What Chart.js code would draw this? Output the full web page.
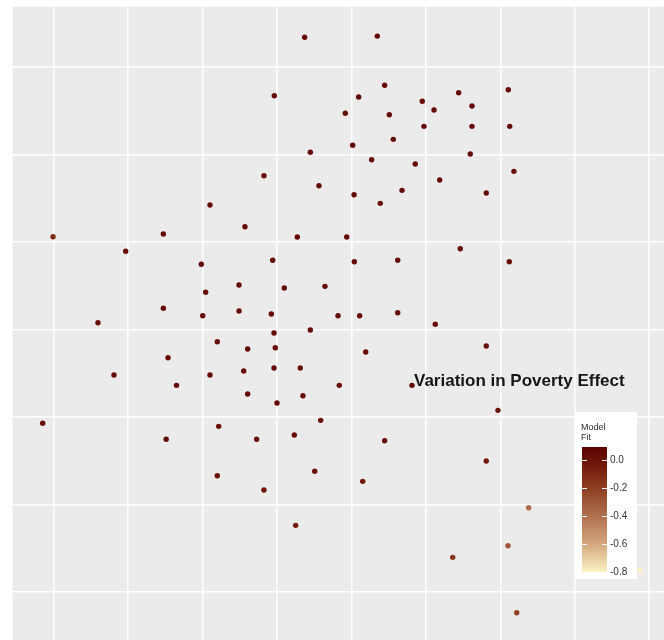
<!DOCTYPE html>
<html>
<head>
<meta charset="utf-8">
<title>Variation in Poverty Effect</title>
<script src="https://cdn.jsdelivr.net/npm/chart.js@4"></script>
<style>
  body { margin: 0; background: #fff; }
  canvas { display: block; }
</style>
</head>
<body>
<canvas id="scatterChart" width="664" height="640"></canvas>
<script>
// positions in grid units (one unit = one gridline step)
const xVals = [
  3.372, 4.348, 2.964, 4.447, 4.098, 3.918, 4.509, 4.952, 5.110, 5.441,
  5.620, 6.108, 6.127, 5.620, 4.975, 4.563, 4.017, 3.448, 4.272, 4.858,
  5.597, 6.184, 2.825, 3.564, 5.186, 4.680, 4.035, 5.812, 4.388, 2.100,
  2.570, -0.009, 1.473, 0.967, 3.273, 3.937, 5.463, 2.942, 1.983, 4.039,
  4.622, 6.121, 2.490, 3.098, 3.645, 2.042, 1.473, 2.490, 2.002, 2.924,
  3.820, 4.111, 4.622, 0.595, 5.127, 2.960, 3.448, 2.198, 2.977, 2.606,
  5.812, 4.192, 1.536, 2.960, 3.313, 2.553, 2.100, 0.810, 1.650, 3.837,
  4.814, 2.606, 3.349, 3.000, 5.969, 3.587, -0.148, 2.217, 3.233, 1.511,
  2.727, 4.447, 5.812, 3.507, 2.198, 4.152, 2.825, 6.382, 3.251, 5.361,
  6.104, 6.221, 7.877
];
const yVals = [
  6.340, 6.354, 5.672, 5.791, 5.657, 5.471, 5.455, 5.608, 5.508, 5.706,
  5.554, 5.740, 5.322, 5.322, 5.322, 5.173, 5.105, 5.025, 4.940, 4.891,
  5.005, 4.807, 4.757, 4.643, 4.708, 4.590, 4.540, 4.559, 4.441, 4.422,
  4.174, 4.059, 4.090, 3.893, 4.056, 4.056, 3.922, 3.790, 3.744, 3.774,
  3.790, 3.774, 3.507, 3.473, 3.492, 3.424, 3.241, 3.210, 3.156, 3.176,
  3.156, 3.156, 3.190, 3.076, 3.058, 2.958, 2.993, 2.859, 2.790, 2.775,
  2.810, 2.741, 2.676, 2.558, 2.558, 2.524, 2.478, 2.478, 2.360, 2.360,
  2.360, 2.261, 2.241, 2.158, 2.074, 1.960, 1.926, 1.891, 1.792, 1.743,
  1.743, 1.727, 1.495, 1.377, 1.326, 1.262, 1.163, 0.961, 0.759, 0.393,
  0.526, -0.240, 0.242
];
const fitVals = [
  0.05, 0.06, 0.04, 0.05, 0.06, 0.04, 0.05, 0.03, 0.05, 0.04,
  0.05, 0.04, 0.03, 0.04, 0.05, 0.04, 0.05, 0.04, 0.03, 0.05,
  0.04, 0.03, 0.04, 0.05, 0.03, 0.04, 0.05, 0.04, 0.03, 0.04,
  0.05, -0.12, 0.04, 0.03, 0.05, 0.04, 0.03, 0.05, 0.04, 0.05,
  0.03, 0.02, 0.04, 0.05, 0.04, 0.03, 0.05, 0.04, 0.04, 0.05,
  0.04, 0.03, 0.04, 0.03, 0.04, 0.05, 0.04, 0.03, 0.05, 0.04,
  0.03, 0.04, 0.04, 0.05, 0.03, 0.04, 0.04, 0.03, 0.05, 0.03,
  0.04, 0.04, 0.03, 0.04, 0.00, 0.02, 0.03, 0.02, 0.03, 0.04,
  0.02, 0.02, -0.02, 0.01, 0.02, -0.01, -0.02, -0.38, -0.05, -0.15,
  -0.30, -0.22, -0.80
];
const xGridTicks = [0, 1, 2, 3, 4, 5, 6, 7, 8];
const yGridTicks = [0, 1, 2, 3, 4, 5, 6];
const legendTicks = [0.0, -0.2, -0.4, -0.6, -0.8];
const legendRange = [0.093, -0.8];

// colour ramp for model fit
const rampStops = [
  [0.093, [91, 0, 0]],
  [0.0, [108, 18, 6]],
  [-0.2, [142, 62, 34]],
  [-0.4, [176, 112, 77]],
  [-0.6, [213, 167, 125]],
  [-0.8, [251, 243, 196]]
];
function fitColour(v) {
  if (v >= rampStops[0][0]) return "rgb(" + rampStops[0][1].join(",") + ")";
  for (let i = 0; i < rampStops.length - 1; i++) {
    const a = rampStops[i], b = rampStops[i + 1];
    if (v <= a[0] && v >= b[0]) {
      const t = (a[0] - v) / (a[0] - b[0]);
      const c = a[1].map((ch, k) => Math.round(ch + (b[1][k] - ch) * t));
      return "rgb(" + c.join(",") + ")";
    }
  }
  return "rgb(" + rampStops[rampStops.length - 1][1].join(",") + ")";
}

const points = xVals.map((x, i) => ({ x: x, y: yVals[i] }));
const colours = fitVals.map(fitColour);

const panelBg = {
  id: "panelBg",
  beforeDraw(chart) {
    const a = chart.chartArea;
    const ctx = chart.ctx;
    ctx.save();
    ctx.fillStyle = "#ebebeb";
    ctx.fillRect(a.left, a.top, a.right - a.left, a.bottom - a.top);
    ctx.restore();
  }
};

const overlay = {
  id: "overlay",
  afterDraw(chart) {
    const ctx = chart.ctx;
    ctx.save();
    // title sits inside the panel
    ctx.fillStyle = "#161616";
    ctx.font = "bold 17px 'Liberation Sans', Arial, sans-serif";
    ctx.textBaseline = "alphabetic";
    ctx.fillText("Variation in Poverty Effect", 414, 386, 212);

    // colourbar legend
    ctx.fillStyle = "#ffffff";
    ctx.fillRect(575, 412, 62, 167);
    ctx.fillStyle = "#2b2b2b";
    ctx.font = "9px 'Liberation Sans', Arial, sans-serif";
    ctx.fillText("Model", 581, 430);
    ctx.fillText("Fit", 581, 440);

    const barX = 582, barW = 25, barTop = 447, barBot = 572;
    const valToY = v => barTop + (legendRange[0] - v) / (legendRange[0] - legendRange[1]) * (barBot - barTop);
    for (let y = barTop; y < barBot; y++) {
      const v = legendRange[0] - (y + 0.5 - barTop) / (barBot - barTop) * (legendRange[0] - legendRange[1]);
      ctx.fillStyle = fitColour(v);
      ctx.fillRect(barX, y, barW, 1);
    }
    ctx.strokeStyle = "#ffffff";
    ctx.lineWidth = 1;
    ctx.fillStyle = "#333333";
    ctx.font = "10px 'Liberation Sans', Arial, sans-serif";
    ctx.textBaseline = "middle";
    legendTicks.forEach(t => {
      const y = Math.round(valToY(t)) + 0.5;
      ctx.beginPath();
      ctx.moveTo(barX, y); ctx.lineTo(barX + 5, y);
      ctx.moveTo(barX + barW - 5, y); ctx.lineTo(barX + barW, y);
      ctx.stroke();
      ctx.fillText(t.toFixed(1), 610, y);
    });
    ctx.restore();
  }
};

const gridOpts = {
  color: "#ffffff",
  lineWidth: 1.5,
  drawTicks: false,
  tickLength: 0
};

new Chart(document.getElementById("scatterChart"), {
  type: "scatter",
  data: {
    datasets: [{
      label: "Model Fit",
      data: points,
      pointBackgroundColor: colours,
      pointBorderWidth: 0,
      pointRadius: 2.7,
      pointHoverRadius: 2.7
    }]
  },
  options: {
    responsive: false,
    animation: false,
    layout: { autoPadding: false, padding: { left: 12.7, top: 6.7, right: 0, bottom: 0 } },
    plugins: {
      legend: { display: false },
      title: { display: false },
      tooltip: { enabled: false }
    },
    scales: {
      x: {
        type: "linear",
        min: -0.551,
        max: 8.2,
        ticks: { display: false, padding: 0 },
        grid: gridOpts,
        border: { display: false },
        afterBuildTicks: axis => { axis.ticks = xGridTicks.map(v => ({ value: v })); },
        afterFit: axis => { axis.height = 0; axis.paddingLeft = 0; axis.paddingRight = 0; }
      },
      y: {
        type: "linear",
        min: -0.552,
        max: 6.69,
        ticks: { display: false, padding: 0 },
        grid: gridOpts,
        border: { display: false },
        afterBuildTicks: axis => { axis.ticks = yGridTicks.map(v => ({ value: v })); },
        afterFit: axis => { axis.width = 0; axis.paddingTop = 0; axis.paddingBottom = 0; }
      }
    }
  },
  plugins: [panelBg, overlay]
});
</script>
</body>
</html>
